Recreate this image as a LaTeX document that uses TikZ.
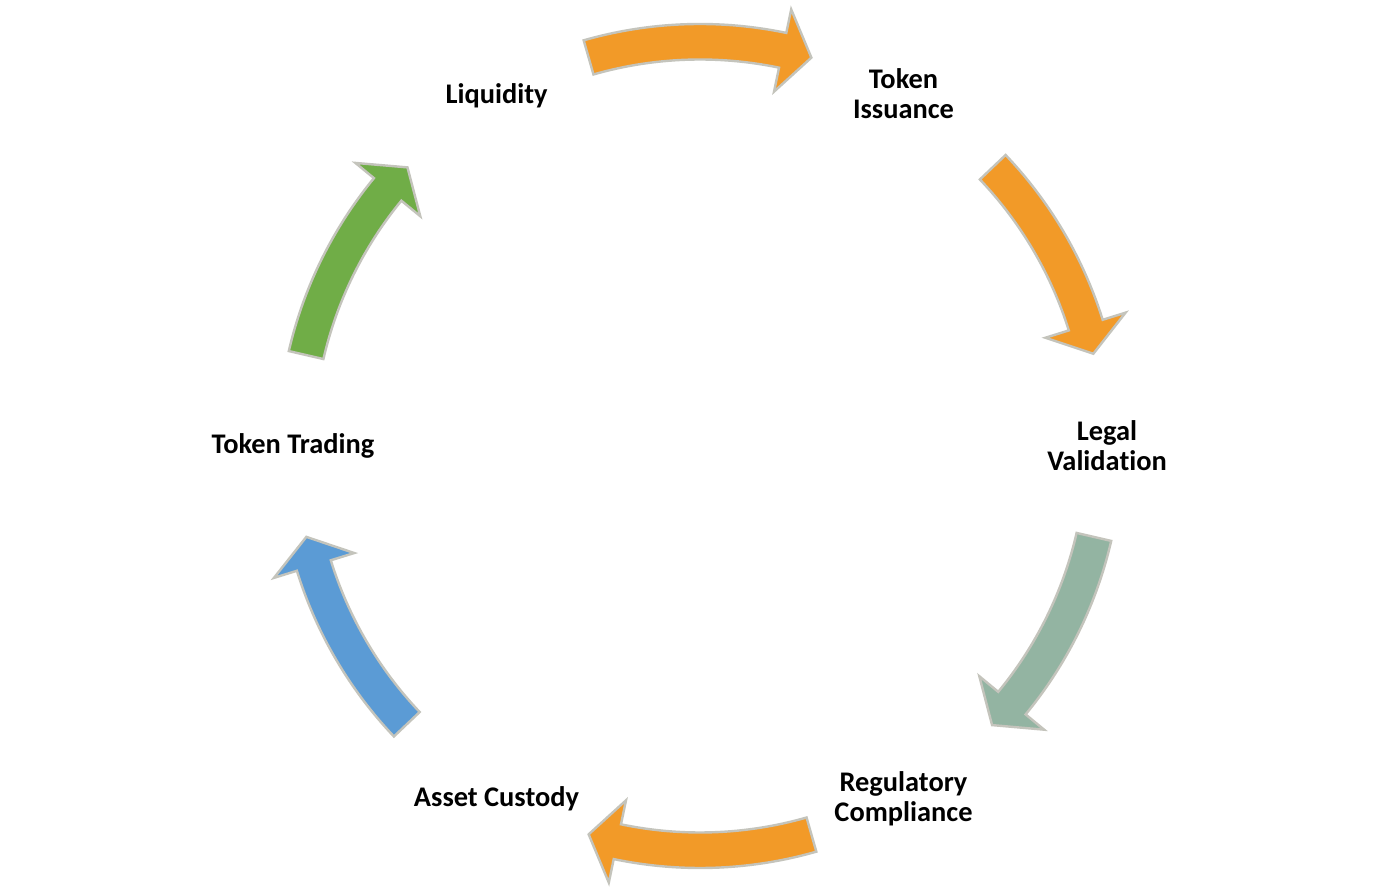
\documentclass[tikz,border=0pt]{standalone}
\usepackage{fontspec}
\setmainfont{Carlito}[Ligatures={NoCommon}]
\usetikzlibrary{calc}
\definecolor{arrorange}{HTML}{F29A28}
\definecolor{arrgreen}{HTML}{70AD47}
\definecolor{arrblue}{HTML}{5B9BD5}
\definecolor{arrmix}{HTML}{93B4A2}
\definecolor{arredge}{HTML}{C4C4BC}
\tikzset{
  arrowshape/.style={draw=arredge, line width=1.2pt, line join=miter},
  steplabel/.style={font=\bfseries\fontsize{14.2}{15}\selectfont, align=center, text=black, inner sep=0pt}
}
\newcommand{\cyclearrow}[4]{%
  \pgfmathsetmacro{\hb}{#4+4.2}%
  \begin{scope}[shift={(c)}]
  \draw[arrowshape, fill=#2] (#3:422) arc[start angle=#3, end angle=\hb, radius=422]
     -- (\hb:446) -- (#4:404) -- (\hb:362) -- (\hb:386.5)
     arc[start angle=\hb, end angle=#3, radius=386.5] -- cycle;
  \node[coordinate] (#1) at (#4:404) {};
  \end{scope}}
\begin{document}
\begin{tikzpicture}[x=0.5pt, y=0.5pt]
\path[use as bounding box, fill=white] (0,0) rectangle (1400,893);
\coordinate (c) at (700,447);
\node[steplabel] (liq) at ($(c)+(120:407)+(0,-2)$) {Liquidity};
\node[steplabel] (iss) at ($(c)+(60:407)$) {Token\\Issuance};
\node[steplabel] (leg) at ($(c)+(0:407)$) {Legal\\Validation};
\node[steplabel] (reg) at ($(c)+(-60:407)$) {Regulatory\\Compliance};
\node[steplabel] (cus) at ($(c)+(-120:407)$) {Asset Custody};
\node[steplabel] (tra) at ($(c)+(180:407)$) {Token Trading};
\cyclearrow{a1}{arrorange}{106}{74}
\cyclearrow{a2}{arrorange}{43.6}{13.2}
\cyclearrow{a3}{arrmix}{-13}{-43.7}
\cyclearrow{a4}{arrorange}{-74}{-106}
\cyclearrow{a5}{arrblue}{-136.5}{-167}
\cyclearrow{a6}{arrgreen}{167}{136.4}
\end{tikzpicture}
\end{document}
